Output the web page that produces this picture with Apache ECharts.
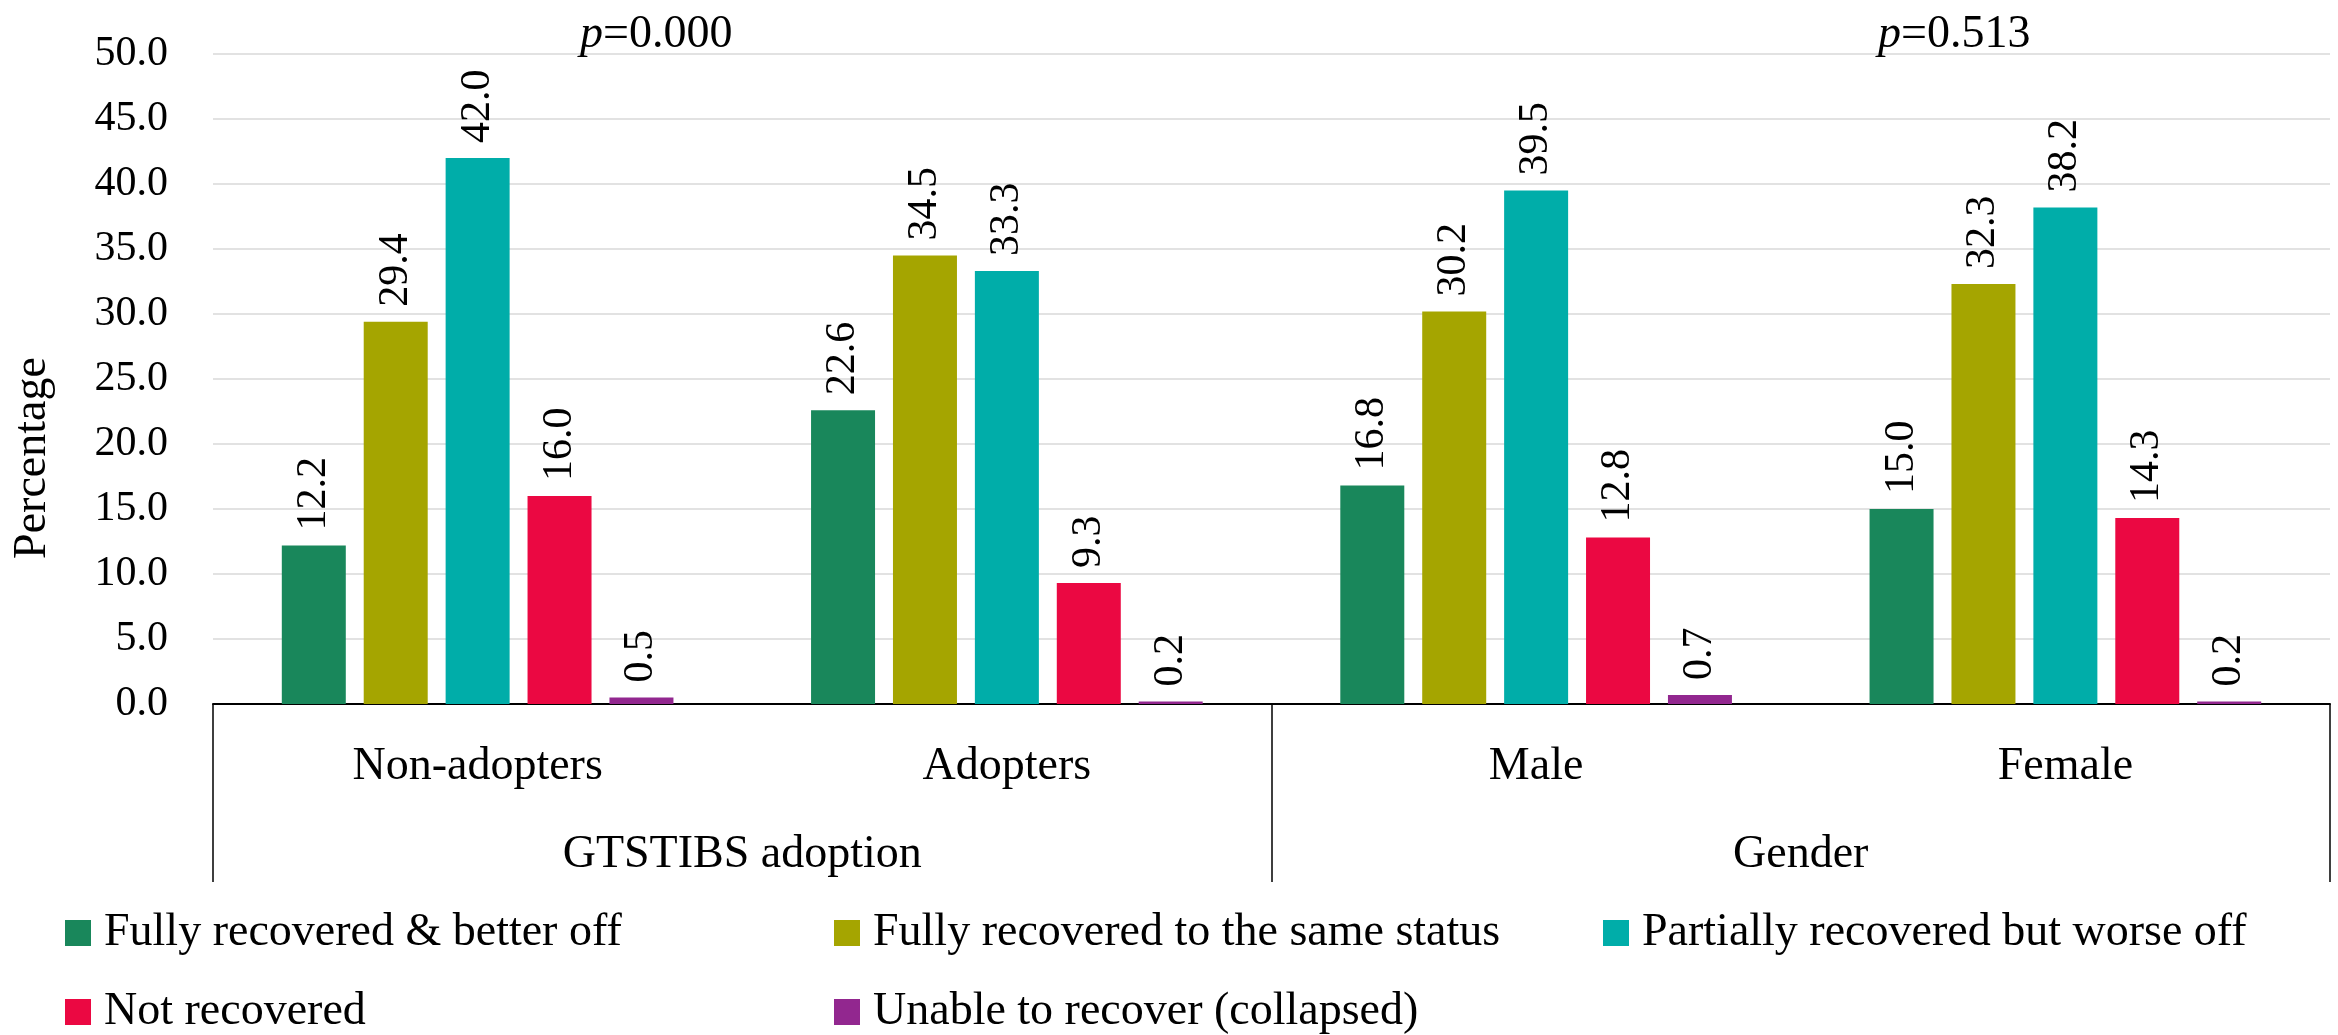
<!DOCTYPE html>
<html>
<head>
<meta charset="utf-8">
<script src="https://cdn.jsdelivr.net/npm/echarts@6/dist/echarts.min.js"></script>
<style>html,body{margin:0;padding:0;background:#fff;}#c{width:2338px;height:1035px;}</style>
</head>
<body>
<div id="c"></div>
<script>
const categories = ['Non-adopters', 'Adopters', 'Male', 'Female'];
const groups = ['GTSTIBS adoption', 'Gender'];
const seriesNames = ['Fully recovered & better off', 'Fully recovered to the same status', 'Partially recovered but worse off', 'Not recovered', 'Unable to recover (collapsed)'];
const fullyBetter = [12.2, 22.6, 16.8, 15.0];
const sameStatus = [29.4, 34.5, 30.2, 32.3];
const partiallyWorse = [42.0, 33.3, 39.5, 38.2];
const notRecovered = [16.0, 9.3, 12.8, 14.3];
const unable = [0.5, 0.2, 0.7, 0.2];
const pValues = ['0.000', '0.513'];
const yTicks = {min: 0, max: 50, interval: 5};

const colors = ['#19875B', '#A5A500', '#00ADA9', '#EB0842', '#92278F'];
const values = [fullyBetter, sameStatus, partiallyWorse, notRecovered, unable];
const FONT = 'Liberation Serif';

const chart = echarts.init(document.getElementById('c'), null, {renderer: 'canvas'});

const legendPos = [[60, 905], [829, 905], [1598, 905], [60, 984], [829, 984]];

const option = {
  animation: false,
  backgroundColor: '#fff',
  textStyle: {fontFamily: FONT, color: '#000'},
  grid: {left: 213, right: 8, top: 54, bottom: 331, containLabel: false},
  title: [
    {text: '{i|p}=' + pValues[0], left: 575, top: 7,
     textStyle: {fontFamily: FONT, fontSize: 46, fontWeight: 'normal', color: '#000', lineHeight: 46,
       rich: {i: {fontFamily: FONT, fontStyle: 'italic', fontSize: 46, color: '#000', lineHeight: 46}}}},
    {text: '{i|p}=' + pValues[1], left: 1873, top: 7,
     textStyle: {fontFamily: FONT, fontSize: 46, fontWeight: 'normal', color: '#000', lineHeight: 46,
       rich: {i: {fontFamily: FONT, fontStyle: 'italic', fontSize: 46, color: '#000', lineHeight: 46}}}}
  ],
  graphic: [{
    type: 'text', x: 33, y: 458, rotation: Math.PI / 2,
    style: {text: 'Percentage', fontFamily: FONT, fontSize: 46, fill: '#000', align: 'center', verticalAlign: 'middle'}
  }],
  legend: seriesNames.map((n, i) => ({
    data: [n], left: legendPos[i][0], top: legendPos[i][1], orient: 'horizontal',
    icon: 'rect', itemWidth: 26, itemHeight: 26,
    textStyle: {fontFamily: FONT, fontSize: 46, color: '#000', lineHeight: 46, padding: [0, 0, 0, 8]},
    selectedMode: false
  })),
  xAxis: [
    {
      type: 'category', data: categories, position: 'bottom',
      axisLine: {show: true, lineStyle: {color: '#000', width: 2}},
      axisTick: {show: false},
      axisLabel: {fontFamily: FONT, fontSize: 46, color: '#000', margin: 40, lineHeight: 46},
      splitLine: {show: false}
    },
    {
      type: 'category', data: groups, position: 'bottom', gridIndex: 0,
      axisLine: {show: false},
      axisTick: {show: true, length: 178, lineStyle: {color: '#000', width: 1.5}},
      axisLabel: {fontFamily: FONT, fontSize: 46, color: '#000', margin: 128, lineHeight: 46},
      splitLine: {show: false}
    }
  ],
  yAxis: {
    type: 'value', min: yTicks.min, max: yTicks.max, interval: yTicks.interval,
    axisLine: {show: false}, axisTick: {show: false},
    axisLabel: {fontFamily: FONT, fontSize: 42, color: '#000', margin: 45, formatter: v => v.toFixed(1)},
    splitLine: {show: true, lineStyle: {color: '#D9D9D9', width: 1.5}}
  },
  series: seriesNames.map((n, i) => ({
    name: n, type: 'bar', xAxisIndex: 0, data: values[i],
    barGap: '28%', barCategoryGap: '26%',
    itemStyle: {color: colors[i]},
    label: {
      show: true, position: 'top', rotate: 90, align: 'left', verticalAlign: 'middle', distance: 15,
      fontFamily: FONT, fontSize: 42, color: '#000', formatter: p => p.value.toFixed(1)
    }
  }))
};
chart.setOption(option);
</script>
</body>
</html>
